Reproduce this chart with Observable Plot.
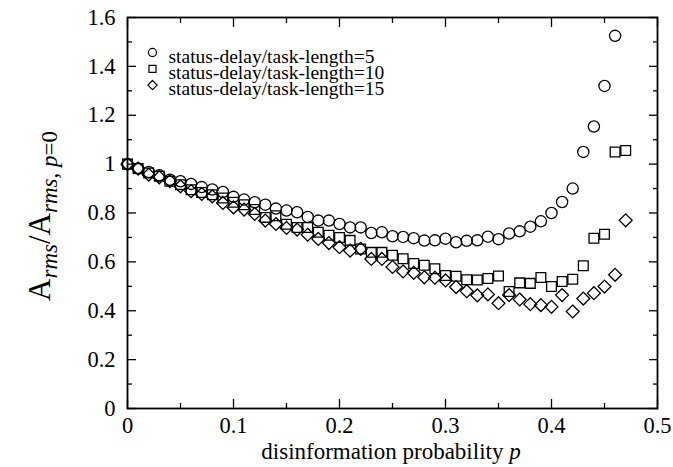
<!DOCTYPE html>
<html><head><meta charset="utf-8">
<script src="https://cdn.jsdelivr.net/npm/d3@7"></script>
<script src="https://cdn.jsdelivr.net/npm/@observablehq/plot@0.6"></script>
<style>body{margin:0;background:#fff} svg{display:block}</style>
</head><body><div id="chart"></div>
<script>
// disinformation probability p
const pValues = [0, 0.01, 0.02, 0.03, 0.04, 0.05, 0.06, 0.07, 0.08, 0.09,
  0.10, 0.11, 0.12, 0.13, 0.14, 0.15, 0.16, 0.17, 0.18, 0.19,
  0.20, 0.21, 0.22, 0.23, 0.24, 0.25, 0.26, 0.27, 0.28, 0.29,
  0.30, 0.31, 0.32, 0.33, 0.34, 0.35, 0.36, 0.37, 0.38, 0.39,
  0.40, 0.41, 0.42, 0.43, 0.44, 0.45, 0.46, 0.47];

// status-delay/task-length = 5 (circles)
const ratio5 = [1.0, 0.982, 0.968, 0.954, 0.936, 0.93, 0.919, 0.906, 0.896, 0.886,
  0.866, 0.855, 0.844, 0.834, 0.818, 0.810, 0.803, 0.784, 0.769, 0.769,
  0.755, 0.741, 0.741, 0.718, 0.721, 0.705, 0.702, 0.697, 0.687, 0.688,
  0.695, 0.680, 0.686, 0.688, 0.703, 0.693, 0.716, 0.725, 0.744, 0.766,
  0.80, 0.845, 0.90, 1.05, 1.154, 1.32, 1.525];

// status-delay/task-length = 10 (squares)
const ratio10 = [1.0, 0.982, 0.964, 0.95, 0.93, 0.916, 0.895, 0.884, 0.875, 0.861,
  0.844, 0.834, 0.814, 0.782, 0.789, 0.754, 0.741, 0.741, 0.721, 0.709,
  0.700, 0.688, 0.653, 0.639, 0.639, 0.627, 0.613, 0.593, 0.586, 0.572,
  0.544, 0.541, 0.527, 0.526, 0.532, 0.542, 0.479, 0.514, 0.512, 0.536,
  0.499, 0.520, 0.529, 0.584, 0.697, 0.713, 1.05, 1.056];

// status-delay/task-length = 15 (diamonds)
const ratio15 = [1.0, 0.982, 0.957, 0.946, 0.930, 0.909, 0.889, 0.878, 0.868, 0.841,
  0.823, 0.814, 0.796, 0.769, 0.755, 0.739, 0.732, 0.711, 0.694, 0.677,
  0.660, 0.646, 0.653, 0.612, 0.612, 0.579, 0.561, 0.555, 0.537, 0.535,
  0.524, 0.497, 0.480, 0.463, 0.467, 0.431, 0.464, 0.446, 0.427, 0.423,
  0.416, 0.464, 0.397, 0.450, 0.472, 0.499, 0.547, 0.770];

const seriesLabels = ["status-delay/task-length=5", "status-delay/task-length=10", "status-delay/task-length=15"];
const xMajorTicks = [0, 0.1, 0.2, 0.3, 0.4, 0.5];
const xMinorTicks = [0.05, 0.15, 0.25, 0.35, 0.45];
const yMajorTicks = [0, 0.2, 0.4, 0.6, 0.8, 1, 1.2, 1.4, 1.6];
const yMinorTicks = [0.1, 0.3, 0.5, 0.7, 0.9, 1.1, 1.3, 1.5];

const FONT = "'Liberation Serif', 'DejaVu Serif', serif";
const rows = (vals) => vals.map((v, i) => ({p: pValues[i], v}));
const symbols = ["circle", "square2", "diamond2"];
const radii = [5.6, 6.2, 5.8];
const seriesData = [ratio5, ratio10, ratio15].map(rows);

const legendMarks = [];
seriesLabels.forEach((lab, i) => {
  legendMarks.push(Plot.dot([lab], {frameAnchor: "top-left", dx: 25, dy: 35 + i * 16.3,
    symbol: symbols[i], r: radii[i] * 0.72, stroke: "black", strokeWidth: 1.2, fill: "none"}));
  legendMarks.push(Plot.text([lab], {frameAnchor: "top-left", dx: 41, dy: 34 + i * 16.3,
    text: d => d, textAnchor: "start", fontSize: 19.5, fontFamily: FONT, fill: "black", lineHeight: 0.8}));
});

const chart = Plot.plot({
  width: 673, height: 467,
  marginLeft: 127, marginRight: 16, marginTop: 17, marginBottom: 59,
  style: {fontFamily: FONT, background: "white", color: "black"},
  x: {domain: [0, 0.5]},
  y: {domain: [0, 1.6]},
  marks: [
    // tick labels
    Plot.axisX(xMajorTicks, {anchor: "bottom", tickSize: 0, tickPadding: 9, fontSize: 22.5, fontFamily: FONT, label: null, tickFormat: d => String(d)}),
    Plot.axisY(yMajorTicks, {anchor: "left", tickSize: 0, tickPadding: 12, fontSize: 22.5, fontFamily: FONT, label: null, tickFormat: d => String(d)}),
    // inward ticks on all four sides
    Plot.axisX(xMajorTicks, {anchor: "bottom", tickSize: -9, text: null, label: null, strokeWidth: 1.3}),
    Plot.axisX(xMinorTicks, {anchor: "bottom", tickSize: -5, text: null, label: null, strokeWidth: 1.3}),
    Plot.axisX(xMajorTicks, {anchor: "top", tickSize: -9, text: null, label: null, strokeWidth: 1.3}),
    Plot.axisX(xMinorTicks, {anchor: "top", tickSize: -5, text: null, label: null, strokeWidth: 1.3}),
    Plot.axisY(yMajorTicks, {anchor: "left", tickSize: -9, text: null, label: null, strokeWidth: 1.3}),
    Plot.axisY(yMinorTicks, {anchor: "left", tickSize: -5, text: null, label: null, strokeWidth: 1.3}),
    Plot.axisY(yMajorTicks, {anchor: "right", tickSize: -9, text: null, label: null, strokeWidth: 1.3}),
    Plot.axisY(yMinorTicks, {anchor: "right", tickSize: -5, text: null, label: null, strokeWidth: 1.3}),
    Plot.frame({stroke: "black", strokeWidth: 1.8}),
    ...seriesData.map((d, i) => Plot.dot(d, {x: "p", y: "v", symbol: symbols[i], r: radii[i],
      stroke: "black", strokeWidth: 1.3, fill: "none"})),
    ...legendMarks
  ]
});

const svg = d3.select(chart);
// x-axis title
const xt = svg.append("text")
  .attr("x", 391).attr("y", 459)
  .attr("text-anchor", "middle")
  .attr("font-family", FONT).attr("font-size", 23).attr("fill", "black");
xt.append("tspan").text("disinformation probability ");
xt.append("tspan").attr("font-style", "italic").text("p");

// y-axis title: A_rms / A_rms, p=0
const yt = svg.append("text")
  .attr("transform", "translate(50,216) rotate(-90)")
  .attr("text-anchor", "middle")
  .attr("font-family", FONT).attr("font-size", 31).attr("fill", "black");
yt.append("tspan").text("A");
yt.append("tspan").attr("font-style", "italic").attr("font-size", 23).attr("dy", 7).text("rms");
yt.append("tspan").attr("dy", -7).text("/A");
yt.append("tspan").attr("font-style", "italic").attr("font-size", 23).attr("dy", 7).text("rms");
yt.append("tspan").attr("font-size", 23).text(", ");
yt.append("tspan").attr("font-style", "italic").attr("font-size", 23).text("p");
yt.append("tspan").attr("font-size", 23).text("=0");

document.getElementById("chart").appendChild(chart);
</script>
</body></html>
